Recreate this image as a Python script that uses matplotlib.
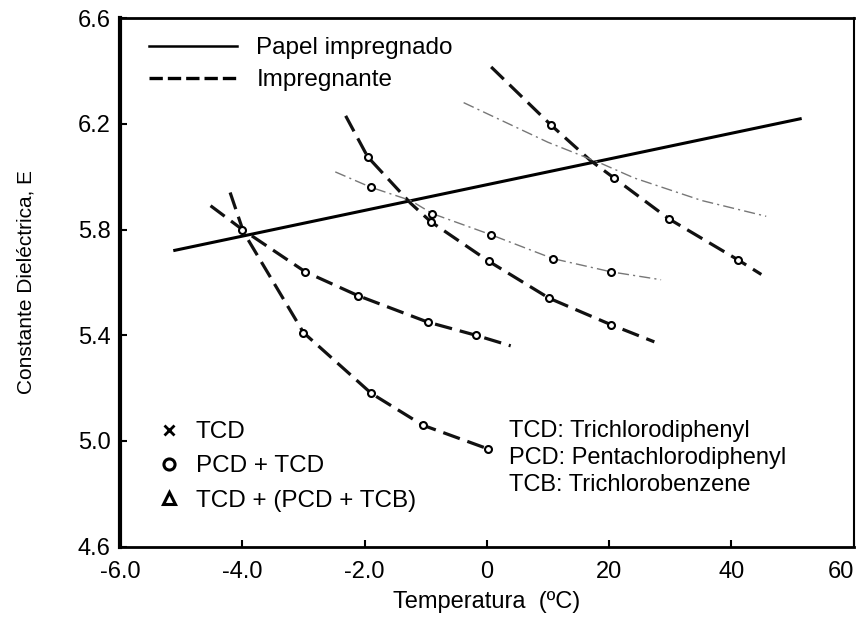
import numpy as np
import matplotlib.pyplot as plt
from matplotlib.lines import Line2D

plt.rcParams['font.family'] = ['Liberation Sans', 'DejaVu Sans']

# x positions are plotted on an evenly spaced axis; tick labels give the printed values
tick_pos = [-6, -4, -2, 0, 2, 4, 6]
tick_labels = ['-6.0', '-4.0', '-2.0', '0', '20', '40', '60']
y_ticks = [4.6, 5.0, 5.4, 5.8, 6.2, 6.6]

# Papel impregnado (solid)
papel_x = [-5.13, 5.15]
papel_y = [5.72, 6.22]

# Impregnante curves (thick dashed)
a_x = [-4.20, -3.98, -3.0, -1.89, -1.05, 0.02]
a_y = [5.94, 5.79, 5.41, 5.18, 5.06, 4.97]
a_mark = [-3.0, -1.89, -1.05, 0.02]
a_mark_y = [5.41, 5.18, 5.06, 4.97]

b_x = [-4.52, -4.0, -2.97, -2.11, -0.97, -0.18, 0.39]
b_y = [5.89, 5.80, 5.64, 5.55, 5.45, 5.40, 5.36]
b_mark = [-4.0, -2.97, -2.11, -0.97, -0.18]
b_mark_y = [5.80, 5.64, 5.55, 5.45, 5.40]

c_x = [-2.31, -1.95, -1.25, -0.92, 0.03, 1.02, 2.03, 2.74]
c_y = [6.23, 6.075, 5.90, 5.83, 5.68, 5.54, 5.44, 5.375]
c_mark = [-1.95, -0.92, 0.03, 1.02, 2.03]
c_mark_y = [6.075, 5.83, 5.68, 5.54, 5.44]

d_x = [0.07, 1.05, 1.70, 2.08, 2.98, 4.11, 4.49]
d_y = [6.415, 6.195, 6.06, 5.995, 5.84, 5.685, 5.63]
d_mark = [1.05, 2.08, 2.98, 4.11]
d_mark_y = [6.195, 5.995, 5.84, 5.685]

# thin dash-dot curves
e_x = [-0.38, 1.0, 1.87, 2.41, 3.51, 4.57]
e_y = [6.28, 6.13, 6.05, 5.995, 5.91, 5.85]

f_x = [-2.48, -1.90, -1.25, -0.89, 0.07, 1.08, 2.03, 2.85]
f_y = [6.018, 5.96, 5.91, 5.86, 5.78, 5.69, 5.64, 5.61]
f_mark = [-1.90, -0.89, 0.07, 1.08, 2.03]
f_mark_y = [5.96, 5.86, 5.78, 5.69, 5.64]

fig = plt.figure(figsize=(8.64, 6.22), dpi=100)
ax = fig.add_axes([0.139, 0.121, 0.849, 0.850])

ax.plot(papel_x, papel_y, color='black', lw=2.2, solid_capstyle='butt')

thick = dict(color='#111111', lw=2.3, dashes=(5.5, 2.5))
thin = dict(color='#777777', lw=1.0, dashes=(8, 3, 1.5, 3))
mk = dict(ls='none', marker='o', ms=5, mfc='white', mec='black', mew=1.5)

ax.plot(a_x, a_y, **thick)
ax.plot(a_mark, a_mark_y, **mk)
ax.plot(b_x, b_y, **thick)
ax.plot(b_mark, b_mark_y, **mk)
ax.plot(c_x, c_y, **thick)
ax.plot(c_mark, c_mark_y, **mk)
ax.plot(d_x, d_y, **thick)
ax.plot(d_mark, d_mark_y, **mk)
ax.plot(e_x, e_y, **thin)
ax.plot(f_x, f_y, **thin)
ax.plot(f_mark, f_mark_y, **mk)

ax.set_xlim(-6, 6)
ax.set_ylim(4.6, 6.6)
ax.set_xticks(tick_pos)
ax.set_xticklabels(tick_labels)
ax.get_xticklabels()[-1].set_ha('right')
ax.set_yticks(y_ticks)
ax.set_yticklabels([f'{v:.1f}' for v in y_ticks])
ax.tick_params(direction='in', length=5, width=1.5, labelsize=17)
ax.tick_params(axis='x', pad=10)
ax.tick_params(axis='y', pad=7)

ax.spines['left'].set_linewidth(3)
ax.spines['bottom'].set_linewidth(2)
ax.spines['top'].set_linewidth(2)
ax.spines['right'].set_linewidth(1.5)

ax.set_xlabel('Temperatura  (ºC)', fontsize=17, labelpad=6)
ax.set_ylabel('Constante Dieléctrica, E', fontsize=15, labelpad=30)

# legend for line styles
line_handles = [Line2D([], [], color='black', lw=1.8),
                Line2D([], [], color='black', lw=2.4, dashes=(4, 1.5))]
leg1 = ax.legend(line_handles, ['Papel impregnado', 'Impregnante'],
                 loc='upper left', bbox_to_anchor=(0.01, 1.005), frameon=False,
                 fontsize=17.5, handlelength=3.6, handletextpad=0.8, labelspacing=0.4)
ax.add_artist(leg1)

# legend for markers
mark_handles = [Line2D([], [], ls='none', marker='x', ms=7, mec='black', mew=2),
                Line2D([], [], ls='none', marker='o', ms=8, mfc='white', mec='black', mew=2.2),
                Line2D([], [], ls='none', marker='^', ms=8, mfc='white', mec='black', mew=2.2)]
ax.legend(mark_handles, ['TCD', 'PCD + TCD', 'TCD + (PCD + TCB)'],
          loc='lower left', bbox_to_anchor=(0.02, 0.025), frameon=False,
          fontsize=17.5, handlelength=1.0, handletextpad=0.6, labelspacing=0.5)

ax.text(0.53, 0.24,
        'TCD: Trichlorodiphenyl\nPCD: Pentachlorodiphenyl\nTCB: Trichlorobenzene',
        transform=ax.transAxes, fontsize=17, va='top', ha='left', linespacing=1.3)

fig.savefig('out.png', dpi=100)
